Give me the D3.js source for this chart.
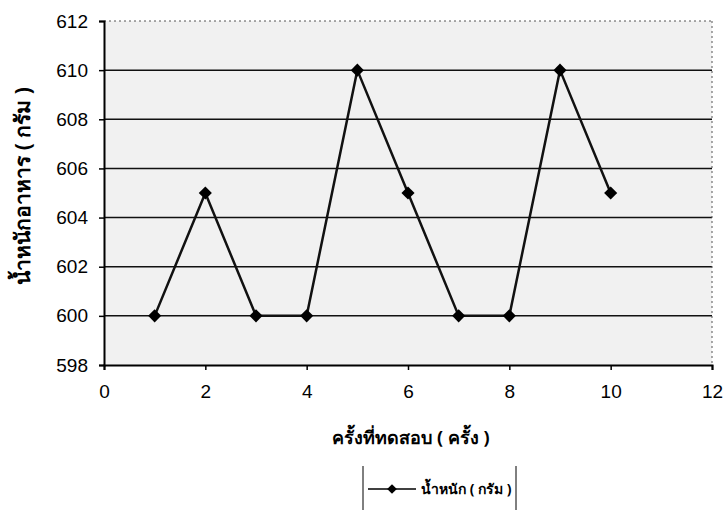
<!DOCTYPE html>
<html><head><meta charset="utf-8">
<script src="https://cdn.jsdelivr.net/npm/d3@7"></script>
<style>body{margin:0;background:#fff}svg{display:block}</style>
</head><body>
<script>
const trials = [1,2,3,4,5,6,7,8,9,10];
const weights = [600,605,600,600,610,605,600,600,610,605];
const xTicks = [0,2,4,6,8,10,12];
const yTicks = [598,600,602,604,606,608,610,612];
const seriesName = "น้ำหนัก ( กรัม )";
const xTitle = "ครั้งที่ทดสอบ ( ครั้ง )";
const yTitle = "น้ำหนักอาหาร ( กรัม )";

const W=728,H=528;
const svg=d3.select("body").append("svg").attr("width",W).attr("height",H);
const x=d3.scaleLinear().domain([0,12]).range([104,712]);
const y=d3.scaleLinear().domain([598,612]).range([365,21]);

svg.append("rect").attr("x",x(0)).attr("y",y(612)).attr("width",x(12)-x(0)).attr("height",y(598)-y(612)).attr("fill","#f1f1f1");

// gridlines
svg.append("g").selectAll("line").data(yTicks.slice(1,-1)).join("line")
 .attr("x1",x(0)).attr("x2",x(12)).attr("y1",d=>y(d)).attr("y2",d=>y(d))
 .attr("stroke","#111").attr("stroke-width",1.5);
svg.append("line").attr("x1",x(0)).attr("x2",x(12)).attr("y1",y(612)).attr("y2",y(612)).attr("stroke","#555").attr("stroke-dasharray","2,3");
svg.append("line").attr("x1",x(12)).attr("x2",x(12)).attr("y1",y(612)).attr("y2",y(598)).attr("stroke","#555").attr("stroke-dasharray","2,3");

const fontT="Arial, 'Liberation Sans', sans-serif";
const yAxis=svg.append("g").attr("transform",`translate(${x(0)},0)`).call(d3.axisLeft(y).tickValues(yTicks).tickSize(5).tickPadding(11));
const xAxis=svg.append("g").attr("transform",`translate(0,${y(598)})`).call(d3.axisBottom(x).tickValues(xTicks).tickSize(5).tickPadding(15));
[yAxis,xAxis].forEach(a=>{
 a.select(".domain").attr("stroke","#000").attr("stroke-width",2);
 a.selectAll(".tick line").attr("stroke","#000").attr("stroke-width",1.5);
 a.selectAll(".tick text").attr("font-family",fontT).attr("font-size",19).attr("fill","#000");
});

const line=d3.line().x((d,i)=>x(trials[i])).y(d=>y(d));
svg.append("path").datum(weights).attr("d",line).attr("fill","none").attr("stroke","#111").attr("stroke-width",2.5);
const diamond=d3.symbol().type(d3.symbolDiamond2).size(110);
svg.append("g").selectAll("path").data(weights).join("path")
 .attr("transform",(d,i)=>`translate(${x(trials[i])},${y(d)})`).attr("d",diamond).attr("fill","#000");

svg.append("text").attr("x",411).attr("y",444).attr("text-anchor","middle")
 .attr("font-family","'Noto Sans', sans-serif").attr("font-weight","bold").attr("font-size",18).text(xTitle);
svg.append("text").attr("transform","translate(30,186) rotate(-90)").attr("text-anchor","middle")
 .attr("font-family","'Noto Sans', sans-serif").attr("font-weight","bold").attr("font-size",21).text(yTitle);

// legend
const lg=svg.append("g");
lg.append("line").attr("x1",363).attr("x2",363).attr("y1",466).attr("y2",510).attr("stroke","#000");
lg.append("line").attr("x1",516).attr("x2",516).attr("y1",466).attr("y2",510).attr("stroke","#000");
lg.append("line").attr("x1",368).attr("x2",416).attr("y1",489).attr("y2",489).attr("stroke","#000").attr("stroke-width",1.5);
lg.append("path").attr("transform","translate(392,489)").attr("d",d3.symbol().type(d3.symbolDiamond2).size(60)).attr("fill","#000");
lg.append("text").attr("x",421).attr("y",494).attr("font-family","'Noto Sans', sans-serif").attr("font-weight","bold").attr("font-size",14).text(seriesName);
</script>
</body></html>
